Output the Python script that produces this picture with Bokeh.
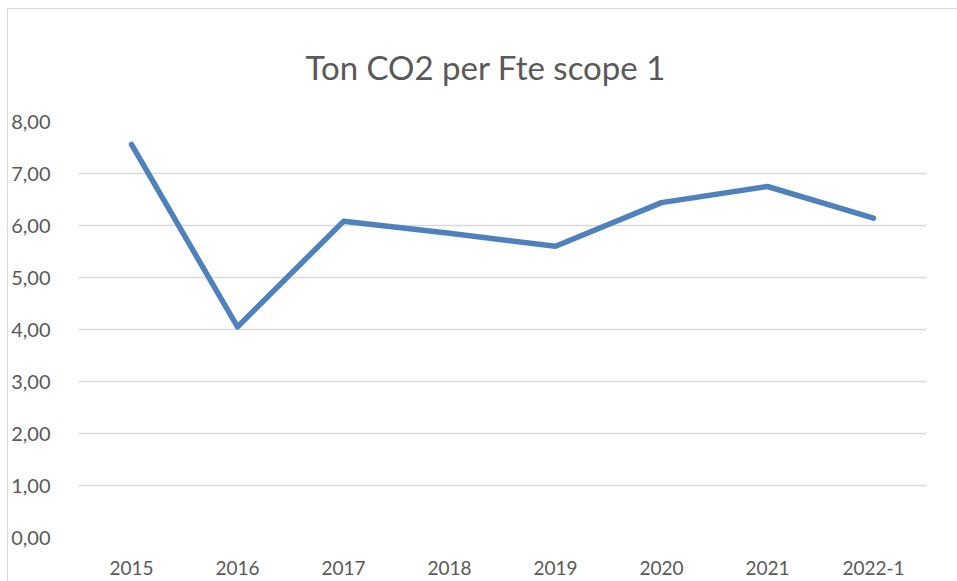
from bokeh.plotting import figure
from bokeh.models import FixedTicker, Range1d, Title
from bokeh.embed import file_html
from bokeh.resources import INLINE

categories = ["2015", "2016", "2017", "2018", "2019", "2020", "2021", "2022-1"]
values = [7.56, 4.05, 6.08, 5.85, 5.60, 6.44, 6.75, 6.14]
y_ticks = [0, 1, 2, 3, 4, 5, 6, 7, 8]
y_tick_labels = ["0,00", "1,00", "2,00", "3,00", "4,00", "5,00", "6,00", "7,00", "8,00"]
title_text = "Ton CO2 per Fte scope 1"

FONT = "Lato"
TXT = "#595959"
GRID = "#D9D9D9"

p = figure(x_range=categories, y_range=Range1d(0, 8), width=950, height=573,
           output_backend="svg", toolbar_location=None,
           min_border_left=69, min_border_right=32, min_border_top=112, min_border_bottom=45)
p.margin = (8, 0, 0, 7)
p.title = Title(text=title_text, align="left", offset=227, text_font=FONT,
                text_font_size="33px", text_color=TXT, text_font_style="normal",
                standoff=66, vertical_align="top")
p.outline_line_color = None
p.background_fill_color = "white"
p.border_fill_color = "white"
p.styles = {"border-left": "1px solid #D9D9D9", "border-top": "1px solid #D9D9D9"}

p.line(x=categories, y=values, line_color="#4F81BD", line_width=5.5,
       line_cap="round", line_join="round")

p.xgrid.grid_line_color = None
p.ygrid.grid_line_color = GRID
p.ygrid.grid_line_width = 1.5
p.yaxis.ticker = FixedTicker(ticks=y_ticks)
p.yaxis.major_label_overrides = {t: l for t, l in zip(y_ticks, y_tick_labels)}

for ax in (p.xaxis, p.yaxis):
    ax.axis_line_color = None
    ax.major_tick_line_color = None
    ax.minor_tick_line_color = None
    ax.major_label_text_font = FONT
    ax.major_label_text_color = TXT
p.xaxis.major_label_text_font_size = "19px"
p.yaxis.major_label_text_font_size = "20px"
p.xaxis.major_label_standoff = 17
p.yaxis.major_label_standoff = 22

open("out.html", "w").write(file_html(p, INLINE))
